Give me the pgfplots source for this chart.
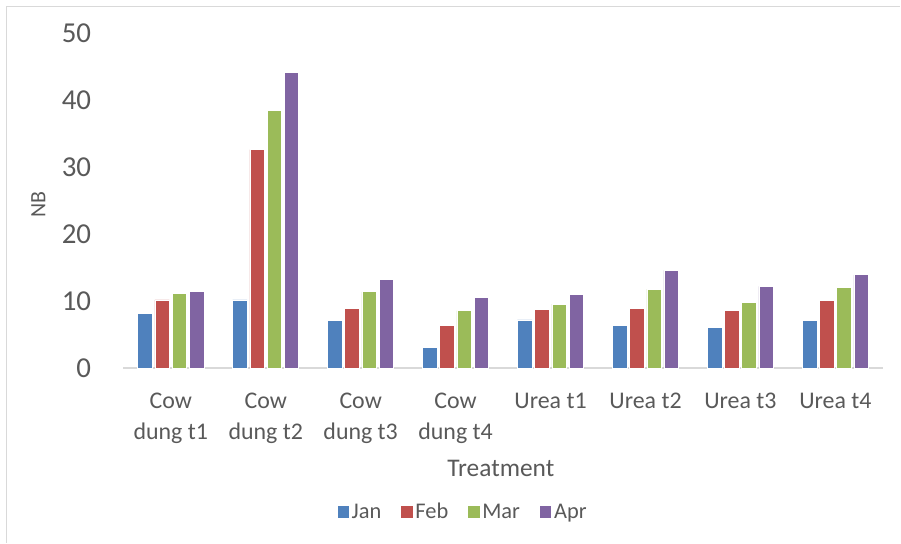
\documentclass[border=0pt]{standalone}
\usepackage{pgfplots}
\pgfplotsset{compat=1.18}
\usepackage{fontspec}
\setmainfont{Carlito}
\definecolor{cJan}{HTML}{4F81BD}
\definecolor{cFeb}{HTML}{C0504D}
\definecolor{cMar}{HTML}{9BBB59}
\definecolor{cApr}{HTML}{8064A2}
\definecolor{txt}{HTML}{595959}
\definecolor{lgray}{HTML}{D9D9D9}
\begin{document}
\begin{tikzpicture}[x=1bp,y=1bp]
\path (0,0) rectangle (901,543);
\draw[lgray, line width=1.5bp] (6.5,0) -- (6.5,536.5) -- (901,536.5);
\begin{axis}[
  at={(123.4bp,174.5bp)}, anchor=south west,
  scale only axis, width=760.2bp, height=335.5bp,
  xmin=-0.5, xmax=7.5, ymin=0, ymax=50,
  /pgf/number format/assume math mode=true,
  ybar=2.6bp, bar width=14.6bp,
  axis x line*=bottom, axis y line*=left,
  y axis line style={draw=none},
  x axis line style={draw=lgray, line width=1.5bp},
  major tick length=0pt,
  xtick=data,
  xticklabels={{Cow\\dung t1},{Cow\\dung t2},{Cow\\dung t3},{Cow\\dung t4},{Urea t1},{Urea t2},{Urea t3},{Urea t4}},
  xticklabel style={align=center, font=\fontsize{24}{30.5}\selectfont, text=txt, anchor=north, inner sep=0pt, yshift=-25bp},
  ytick={0,10,20,30,40,50},
  yticklabel style={font=\fontsize{29}{32}\selectfont, text=txt, anchor=east, inner sep=0pt, xshift=-32bp},
  ylabel={NB},
  every axis y label/.style={at={(axis description cs:-0.112,0.487)}, anchor=center, rotate=90, font=\fontsize{22}{24}\selectfont, text=txt},
  xlabel={Treatment},
  every axis x label/.style={at={(axis description cs:0.497,-0.2996)}, anchor=center, font=\fontsize{25.5}{28}\selectfont, text=txt},
  legend columns=4,
  legend style={at={(axis description cs:0.4467,-0.4277)}, anchor=center, draw=none, fill=none,
    font=\fontsize{22.5}{25}\selectfont, text=txt, /tikz/every even column/.append style={column sep=17bp}},
  legend image code/.code={\fill[#1] (0bp,-6.5bp) rectangle (12.5bp,6.5bp);},
  every axis plot/.append style={draw=white, line width=0.6bp},
]
\addplot[fill=cJan] coordinates {(0,8.23) (1,10.2) (2,7.08) (3,3.16) (4,7.2) (5,6.38) (6,6.14) (7,7.08)};
\addplot[fill=cFeb] coordinates {(0,10.2) (1,32.6) (2,8.97) (3,6.33) (4,8.76) (5,8.97) (6,8.67) (7,10.16)};
\addplot[fill=cMar] coordinates {(0,11.1) (1,38.5) (2,11.4) (3,8.57) (4,9.56) (5,11.8) (6,9.87) (7,12.04)};
\addplot[fill=cApr] coordinates {(0,11.5) (1,44.1) (2,13.3) (3,10.5) (4,11.05) (5,14.6) (6,12.2) (7,13.93)};
\legend{Jan,Feb,Mar,Apr}
\end{axis}
\end{tikzpicture}
\end{document}
